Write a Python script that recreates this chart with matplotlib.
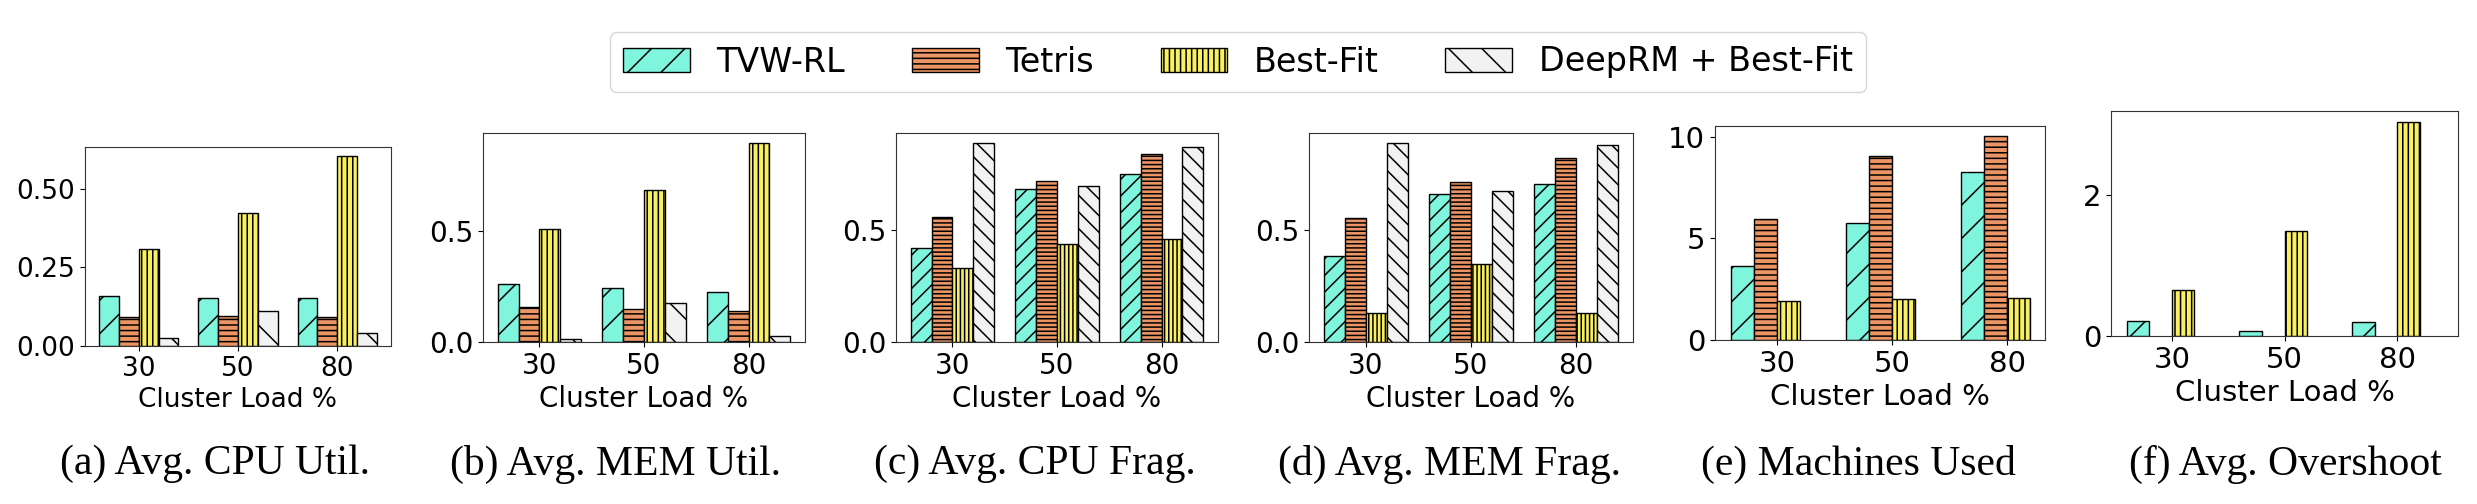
import numpy as np
import matplotlib.pyplot as plt

plt.rcParams['hatch.linewidth'] = 1.1

loads = ['30', '50', '80']
methods = ['TVW-RL', 'Tetris', 'Best-Fit', 'DeepRM + Best-Fit']
colors = ['#7ff5dd', '#eb9565', '#f8f062', '#f2f2f2']

# rows: TVW-RL, Tetris, Best-Fit, DeepRM + Best-Fit (None = not shown)
cpu_util = [[0.160, 0.151, 0.151],
            [0.093, 0.095, 0.093],
            [0.309, 0.424, 0.602],
            [0.024, 0.111, 0.040]]
mem_util = [[0.264, 0.242, 0.225],
            [0.157, 0.151, 0.139],
            [0.512, 0.686, 0.899],
            [0.015, 0.177, 0.026]]
cpu_frag = [[0.418, 0.680, 0.749],
            [0.555, 0.714, 0.835],
            [0.327, 0.436, 0.458],
            [0.885, 0.692, 0.869]]
mem_frag = [[0.381, 0.658, 0.704],
            [0.552, 0.711, 0.820],
            [0.128, 0.345, 0.128],
            [0.885, 0.673, 0.874]]
machines = [[3.62, 5.74, 8.25],
            [5.97, 9.03, 10.02],
            [1.91, 2.01, 2.06],
            None]
overshoot = [[0.218, 0.071, 0.194],
             None,
             [0.659, 1.483, 3.04],
             None]

panels = [cpu_util, mem_util, cpu_frag, mem_frag, machines, overshoot]
yticks = [[0, 0.25, 0.5], [0, 0.5], [0, 0.5], [0, 0.5], [0, 5, 10], [0, 2]]
captions = ['(a) Avg. CPU Util.', '(b) Avg. MEM Util.', '(c) Avg. CPU Frag.',
            '(d) Avg. MEM Frag.', '(e) Machines Used', '(f) Avg. Overshoot']

# layout in pixels: left, right, top, bottom of each axes
W, H = 2477, 504
boxes = [(85, 391, 147, 346), (483, 805, 133, 342), (896, 1218, 133, 342),
         (1309, 1633, 133, 342), (1715, 2045, 126, 340), (2111, 2458, 111, 336)]
cap_x = [215, 615, 1035, 1450, 1858, 2285]
fsizes = [19, 20, 20, 20, 21, 21]
hatch_sets = [['/', '---', '|||', '\\'], ['/', '---', '|||', '\\'],
              ['//', '----', '||||', '\\\\'], ['//', '----', '||||', '\\\\'],
              ['/', '---', '|||', '\\'], ['/', '---', '|||', '\\']]

fig = plt.figure(figsize=(24.77, 5.04), dpi=100)
x = np.arange(len(loads))
width = 0.2
handles = None

for i, vals in enumerate(panels):
    l, r, t, b = boxes[i]
    ax = fig.add_axes([l / W, 1 - b / H, (r - l) / W, (b - t) / H])
    for j, series in enumerate(vals):
        if series is None:
            continue
        ax.bar(x + (j - 1.5) * width, series, width, color=colors[j],
               edgecolor='black', linewidth=1, hatch=hatch_sets[i][j],
               label=methods[j])
    ax.set_xticks(x, loads)
    ax.set_yticks(yticks[i])
    ax.set_xlim(-0.54, 2.54 if i != 4 else 2.33)
    ax.set_xlabel('Cluster Load %', fontsize=fsizes[i])
    ax.tick_params(labelsize=fsizes[i])
    for s in ax.spines.values():
        s.set_edgecolor('#333333')
    if i == 0:
        handles, labels = ax.get_legend_handles_labels()
    fig.text(cap_x[i] / W, 1 - 464 / H, captions[i], ha='center', va='center',
             family='Liberation Serif', fontsize=30)

fig.legend(handles, labels, loc='center', bbox_to_anchor=(1238 / W, 1 - 62 / H),
           ncol=4, fontsize=24)

fig.savefig('out.png', dpi=100)
